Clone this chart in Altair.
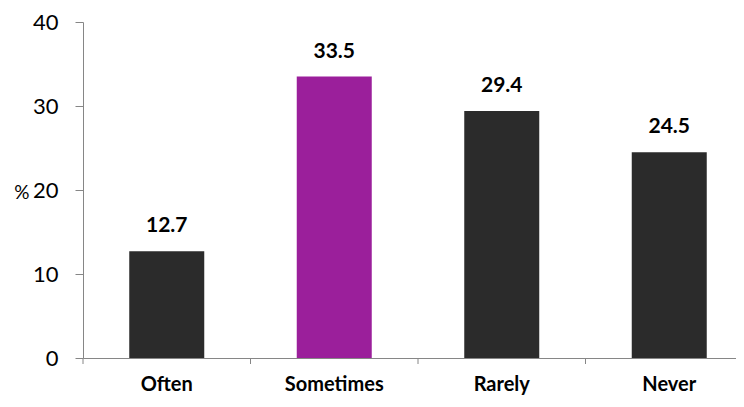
import altair as alt
import pandas as pd

categories = ["Often", "Sometimes", "Rarely", "Never"]
values = [12.7, 33.5, 29.4, 24.5]
colors = ["#2b2b2b", "#9b1f9b", "#2b2b2b", "#2b2b2b"]

df = pd.DataFrame({"cat": categories, "val": values, "col": colors})

FONT = "Lato"
AX = "#868686"

xscale = alt.Scale(domain=categories, range=[0, 670], paddingInner=0, paddingOuter=0)
yscale = alt.Scale(domain=[0, 40])

base = alt.Chart(df)

bars = base.mark_bar(size=75).encode(
    x=alt.X("cat:N", scale=xscale, sort=categories,
            axis=alt.Axis(title=None, labelAngle=0, ticks=False, domainColor=AX,
                          labelFont=FONT, labelFontSize=20, labelFontWeight="bold",
                          labelColor="#000000", labelPadding=16)),
    y=alt.Y("val:Q", scale=yscale,
            axis=alt.Axis(title="%", titleAngle=0, titleFont=FONT, titleFontSize=19,
                          titleFontWeight="normal", titleColor="#000000",
                          titleX=-54, titleY=176, titleAlign="right", titleBaseline="alphabetic",
                          values=[0, 10, 20, 30, 40], grid=False, tickSize=8, tickColor=AX,
                          domainColor=AX, labelFont=FONT, labelFontSize=22,
                          labelColor="#000000", labelPadding=17)),
    color=alt.Color("col:N", scale=None),
)

labels = base.mark_text(font=FONT, fontSize=21, fontWeight="bold", baseline="alphabetic",
                        dy=-19, color="#000000").encode(
    x=alt.X("cat:N", scale=xscale, sort=categories),
    y=alt.Y("val:Q", scale=yscale),
    text=alt.Text("val:Q", format=".1f"),
)

ticks = base.mark_rule(color=AX, strokeWidth=1).encode(
    x=alt.X("cat:N", scale=xscale, sort=categories, bandPosition=0),
    y=alt.value(336),
    y2=alt.value(342),
)

chart = alt.layer(bars, labels, ticks).properties(
    width=653, height=336,
    autosize=alt.AutoSizeParams(type="none"),
    padding={"left": 75, "top": 14, "right": 0, "bottom": 40},
).configure_view(stroke=None)

chart.save("out.html", embed_options={"renderer": "svg", "actions": False})
